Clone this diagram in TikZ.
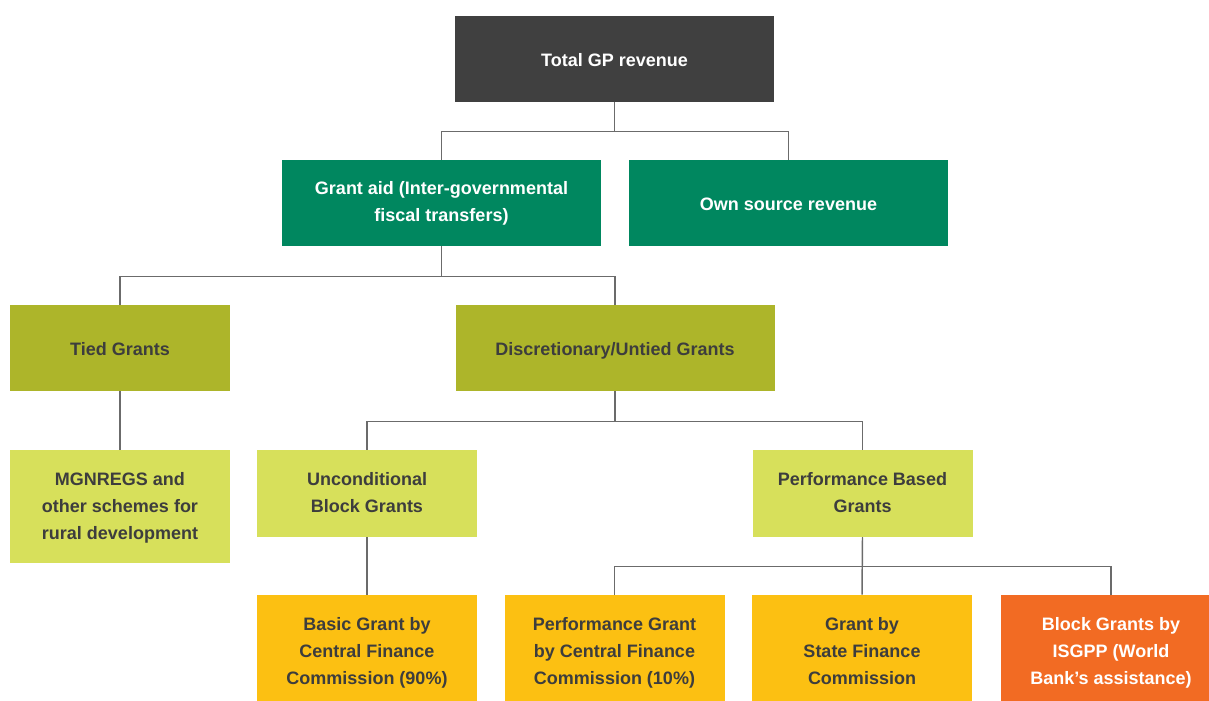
\documentclass[tikz,border=0pt]{standalone}
\usepackage{fontspec}
\setmainfont{Liberation Sans}
\definecolor{cdark}{HTML}{404040}
\definecolor{cgreen}{HTML}{00875F}
\definecolor{colive}{HTML}{ADB52A}
\definecolor{clime}{HTML}{D7E05B}
\definecolor{cyellow}{HTML}{FCC012}
\definecolor{corange}{HTML}{F26B23}
\definecolor{ctext}{HTML}{3D3D3D}
\definecolor{cline}{HTML}{6B6B6B}
\begin{document}
\begin{tikzpicture}[x=0.75pt,y=-0.75pt,
  box/.style={rectangle, inner sep=0pt},
  txt/.style={inner sep=0pt, align=center, font=\fontsize{13.5pt}{20.25pt}\selectfont\bfseries,
    execute at begin node={\strut}, execute at end node={\strut}},
  wide/.style={box, minimum width=239.25pt},
  narrow/.style={box, minimum width=165pt},
  hA/.style={minimum height=64.5pt},
  hM/.style={minimum height=65.25pt},
  hB/.style={minimum height=84.75pt},
  lvl0/.style={fill=cdark},
  lvl1/.style={fill=cgreen},
  lvl2/.style={fill=colive},
  lvl3/.style={fill=clime},
  lvl4/.style={fill=cyellow},
  lvl4o/.style={fill=corange},
  wt/.style={txt, text=white},
  dt/.style={txt, text=ctext},
  conn/.style={draw=cline, line width=1.1pt}
]
\useasboundingbox (0,0) rectangle (1209,700);
\node[wide,hA,lvl0] (total) at (614.5,59) {};
\node[wide,hA,lvl1] (grant) at (441.5,203) {};
\node[wide,hA,lvl1] (own) at (788.5,203) {};
\node[narrow,hA,lvl2] (tied) at (120,348) {};
\node[wide,hA,lvl2] (disc) at (615,348) {};
\node[narrow,hB,lvl3] (mgn) at (120,506.5) {};
\node[narrow,hM,lvl3] (uncond) at (367,493.5) {};
\node[narrow,hM,lvl3] (perf) at (862.5,493.5) {};
\node[narrow,hB,lvl4] (basic) at (367,651.5) {};
\node[narrow,hB,lvl4] (pgrant) at (614.5,651.5) {};
\node[narrow,hB,lvl4] (state) at (862,651.5) {};
\node[narrow,hB,lvl4o] (isgpp) at (1111,651.5) {};

\node[wt] (total-t) at ([yshift=-1.6pt]total.center) {Total GP revenue};
\node[wt] (grant-t) at ([yshift=-2.2pt]grant.center) {Grant aid (Inter-governmental\\fiscal transfers)};
\node[wt] (own-t) at ([yshift=-1.6pt]own.center) {Own source revenue};
\node[dt] (tied-t) at ([yshift=-1.6pt]tied.center) {Tied Grants};
\node[dt] (disc-t) at ([yshift=-1.6pt]disc.center) {Discretionary/Untied Grants};
\node[dt] (mgn-t) at ([yshift=-2.6pt]mgn.center) {MGNREGS and\\other schemes for\\rural development};
\node[dt] (uncond-t) at ([yshift=-2.6pt]uncond.center) {Unconditional\\Block Grants};
\node[dt] (perf-t) at ([yshift=-2.6pt]perf.center) {Performance Based\\Grants};
\node[dt] (basic-t) at ([yshift=-2.6pt]basic.center) {Basic Grant by\\Central Finance\\Commission (90\%)};
\node[dt] (pgrant-t) at ([yshift=-2.6pt]pgrant.center) {Performance Grant\\by Central Finance\\Commission (10\%)};
\node[dt] (state-t) at ([yshift=-2.6pt]state.center) {Grant by\\State Finance\\Commission};
\node[wt] (isgpp-t) at ([yshift=-2.6pt]isgpp.center) {Block Grants by\\ISGPP (World\\Bank’s assistance)};

\draw[conn] (total.south) -- ++(0,29) -| (grant.north);
\draw[conn] (total.south) ++(0,29) -| (own.north);
\draw[conn] (grant.south) -- ++(0,30) -| (tied.north);
\draw[conn] (grant.south) ++(0,30) -| (disc.north);
\draw[conn] (tied.south) -- (mgn.north);
\draw[conn] (disc.south) -- ++(0,30) -| (uncond.north);
\draw[conn] (disc.south) ++(0,30) -| (perf.north);
\draw[conn] (uncond.south) -- (basic.north);
\draw[conn] (perf.south) -- ++(0,29) -| (pgrant.north);
\draw[conn] (perf.south) ++(0,29) -| (isgpp.north);
\draw[conn] (perf.south) -- (state.north);
\end{tikzpicture}
\end{document}
